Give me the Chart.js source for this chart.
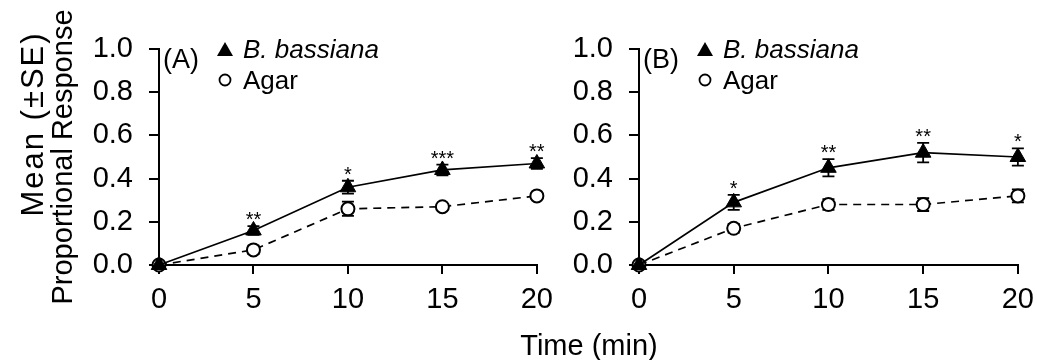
<!DOCTYPE html>
<html>
<head>
<meta charset="utf-8">
<script src="https://cdn.jsdelivr.net/npm/chart.js@4"></script>
<style>
  body { margin: 0; background: #fff; }
  #wrap { position: relative; width: 1037px; height: 360px; overflow: hidden; }
  canvas { position: absolute; top: 0; }
  #panel-a { left: 0; }
  #panel-b { left: 480px; }
</style>
</head>
<body>
<div id="wrap">
  <canvas id="panel-a" width="562" height="360"></canvas>
  <canvas id="panel-b" width="563" height="360"></canvas>
</div>
<script>
// DATA  -----------------------------------------------------------------------
const times = [0, 5, 10, 15, 20];
const xTicks = [0, 5, 10, 15, 20];
const yTicks = [0, 0.2, 0.4, 0.6, 0.8, 1.0];

// panel (A)
const bassianaA = [0, 0.16, 0.36, 0.44, 0.47];
const bassianaSeA = [0, 0.02, 0.03, 0.025, 0.025];
const agarA = [0, 0.07, 0.26, 0.27, 0.32];
const agarSeA = [0, 0.02, 0.033, 0.01, 0.015];
const starsA = ['', '**', '*', '***', '**'];

// panel (B)
const bassianaB = [0, 0.29, 0.45, 0.52, 0.50];
const bassianaSeB = [0, 0.035, 0.04, 0.045, 0.04];
const agarB = [0, 0.17, 0.28, 0.28, 0.32];
const agarSeB = [0, 0.02, 0.025, 0.03, 0.03];
const starsB = ['', '*', '**', '**', '*'];

const FONT = '"Liberation Sans", Arial, sans-serif';

// error bars (behind the markers)
const errorBarPlugin = {
    id: 'errorBars',
    beforeDatasetsDraw(chart) {
        const ctx = chart.ctx;
        const xs = chart.scales.x;
        const ys = chart.scales.y;
        ctx.save();
        ctx.strokeStyle = '#000';
        ctx.lineWidth = 1.8;
        chart.data.datasets.forEach(ds => {
            ds.data.forEach((p, i) => {
                const se = ds.se[i];
                if (!se) return;
                const x = xs.getPixelForValue(p.x);
                const yTop = ys.getPixelForValue(p.y + se);
                const yBot = ys.getPixelForValue(p.y - se);
                ctx.beginPath();
                ctx.moveTo(x, yTop); ctx.lineTo(x, yBot);
                ctx.moveTo(x - 6, yTop); ctx.lineTo(x + 6, yTop);
                ctx.moveTo(x - 6, yBot); ctx.lineTo(x + 6, yBot);
                ctx.stroke();
            });
        });
        ctx.restore();
    }
};

// significance stars, panel letter and the legend box
const annotationPlugin = {
    id: 'annotations',
    afterDatasetsDraw(chart, args, opts) {
        const ctx = chart.ctx;
        const xs = chart.scales.x;
        const ys = chart.scales.y;
        const left = chart.chartArea.left;
        const ds = chart.data.datasets[0];
        ctx.save();
        ctx.fillStyle = '#000';
        ctx.textAlign = 'center';
        ctx.textBaseline = 'alphabetic';
        ctx.font = '20px ' + FONT;
        opts.stars.forEach((s, i) => {
            if (!s) return;
            const p = ds.data[i];
            const x = xs.getPixelForValue(p.x);
            const y = ys.getPixelForValue(p.y + ds.se[i]);
            ctx.fillText(s, x, y);
        });

        ctx.textAlign = 'left';
        ctx.font = '27px ' + FONT;
        ctx.fillText(opts.letter, left + 4, 68);

        // legend
        const mx = left + 66;
        ctx.beginPath();
        ctx.moveTo(mx, 42);
        ctx.lineTo(mx + 8, 56);
        ctx.lineTo(mx - 8, 56);
        ctx.closePath();
        ctx.fill();
        ctx.beginPath();
        ctx.arc(mx, 80, 5.5, 0, Math.PI * 2);
        ctx.lineWidth = 1.8;
        ctx.strokeStyle = '#000';
        ctx.stroke();

        ctx.font = 'italic 26px ' + FONT;
        ctx.fillText('B. bassiana', left + 84, 58);
        ctx.font = '26px ' + FONT;
        ctx.fillText('Agar', left + 84, 89);

        if (opts.yTitle) {
            ctx.save();
            ctx.rotate(-Math.PI / 2);
            ctx.textAlign = 'center';
            ctx.font = '29px ' + FONT;
            ctx.fillText('Proportional Response', -157, 72);
            ctx.font = '31px ' + FONT;
            if ('letterSpacing' in ctx) ctx.letterSpacing = '2px';
            ctx.fillText('Mean (±SE)', -124, 43);
            ctx.restore();
        }
        if (opts.xTitle) {
            ctx.textAlign = 'center';
            ctx.font = '29px ' + FONT;
            ctx.fillText('Time (min)', 109, 355);
        }
        ctx.restore();
    }
};

function makePanel(id, bass, bassSe, agar, agarSe, stars, letter, padRight, yTitle, xTitle) {
    const canvas = document.getElementById(id);
    const ctx = canvas.getContext('2d');
    new Chart(ctx, {
        type: 'line',
        data: {
            datasets: [{
                label: 'B. bassiana',
                data: times.map((t, i) => ({ x: t, y: bass[i] })),
                se: bassSe,
                borderColor: '#000',
                backgroundColor: '#000',
                borderWidth: 1.7,
                pointStyle: 'triangle',
                pointRadius: 9,
                pointBorderWidth: 1,
                pointBackgroundColor: '#000',
                pointBorderColor: '#000',
                clip: false,
                tension: 0
            }, {
                label: 'Agar',
                data: times.map((t, i) => ({ x: t, y: agar[i] })),
                se: agarSe,
                borderColor: '#000',
                borderWidth: 1.7,
                borderDash: [8, 6],
                pointStyle: 'circle',
                pointRadius: 6.5,
                pointBorderWidth: 2,
                pointBackgroundColor: '#fff',
                pointBorderColor: '#000',
                clip: false,
                tension: 0
            }]
        },
        options: {
            responsive: false,
            animation: false,
            events: [],
            layout: {
                padding: { left: 0, right: padRight, top: 49, bottom: 0 }
            },
            scales: {
                x: {
                    type: 'linear',
                    min: 0,
                    max: 20,
                    afterBuildTicks: scale => { scale.ticks = xTicks.map(v => ({ value: v })); },
                    afterFit: scale => { scale.height = 95; },
                    grid: {
                        display: true,
                        drawOnChartArea: false,
                        drawTicks: true,
                        tickLength: 9,
                        color: '#000',
                        lineWidth: 2
                    },
                    border: { display: true, color: '#000', width: 2 },
                    ticks: {
                        color: '#000',
                        padding: 9,
                        maxRotation: 0,
                        font: { family: FONT, size: 29 }
                    }
                },
                y: {
                    min: 0,
                    max: 1,
                    afterBuildTicks: scale => { scale.ticks = yTicks.map(v => ({ value: v })); },
                    afterFit: scale => { scale.width = 159; },
                    grid: {
                        display: true,
                        drawOnChartArea: false,
                        drawTicks: true,
                        tickLength: 10,
                        color: '#000',
                        lineWidth: 2
                    },
                    border: { display: true, color: '#000', width: 2 },
                    ticks: {
                        color: '#000',
                        padding: 16,
                        font: { family: FONT, size: 29 },
                        callback: v => v.toFixed(1)
                    }
                }
            },
            plugins: {
                legend: { display: false },
                tooltip: { enabled: false },
                annotations: { stars: stars, letter: letter, yTitle: yTitle, xTitle: xTitle }
            }
        },
        plugins: [errorBarPlugin, annotationPlugin]
    });
}

makePanel('panel-a', bassianaA, bassianaSeA, agarA, agarSeA, starsA, '(A)', 16, true, false);
makePanel('panel-b', bassianaB, bassianaSeB, agarB, agarSeB, starsB, '(B)', 14, false, true);
</script>
</body>
</html>
